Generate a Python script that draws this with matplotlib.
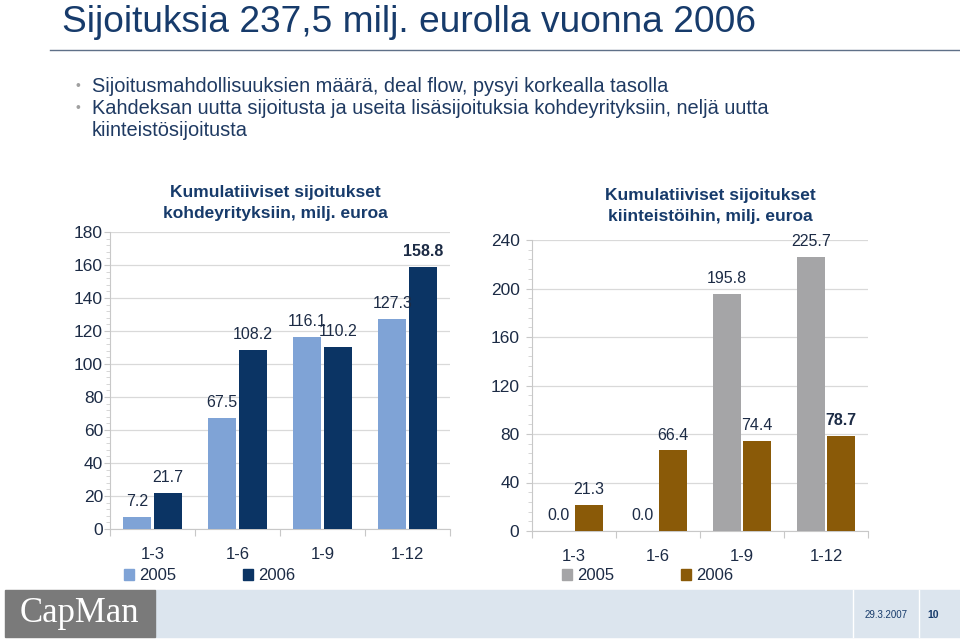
import matplotlib
matplotlib.use("Agg")
import matplotlib.pyplot as plt
from matplotlib.patches import Rectangle, Patch
from matplotlib.lines import Line2D
from matplotlib.ticker import MultipleLocator, AutoMinorLocator
import numpy as np

plt.rcParams['font.family'] = ['Liberation Sans', 'DejaVu Sans']

# data
periods = ['1-3', '1-6', '1-9', '1-12']
years = ['2005', '2006']
companies_2005 = [7.2, 67.5, 116.1, 127.3]
companies_2006 = [21.7, 108.2, 110.2, 158.8]
realestate_2005 = [0.0, 0.0, 195.8, 225.7]
realestate_2006 = [21.3, 66.4, 74.4, 78.7]

title = 'Sijoituksia 237,5 milj. eurolla vuonna 2006'
bullet_lines = ['Sijoitusmahdollisuuksien määrä, deal flow, pysyi korkealla tasolla',
                'Kahdeksan uutta sijoitusta ja useita lisäsijoituksia kohdeyrityksiin, neljä uutta',
                'kiinteistösijoitusta']
left_title = 'Kumulatiiviset sijoitukset\nkohdeyrityksiin, milj. euroa'
right_title = 'Kumulatiiviset sijoitukset\nkiinteistöihin, milj. euroa'

navy = '#173b6b'
text_dark = '#1c2b45'
W, H = 960, 640

fig = plt.figure(figsize=(9.6, 6.4), dpi=100)

def fx(px):
    return px / W

def fy(py):
    return 1 - py / H

# slide header
fig.text(fx(62), fy(22), title, fontsize=26.7, color=navy, va='center', ha='left')
fig.add_artist(Line2D([fx(50), 1.0], [fy(50), fy(50)], color='#5f7088', lw=1))
for yy, line, dot in zip([86, 108, 131], bullet_lines, [True, True, False]):
    if dot:
        fig.text(fx(75), fy(yy), '•', fontsize=10, color='#a0a0a0', va='center')
    fig.text(fx(92), fy(yy), line, fontsize=14.45, color='#1f3a62', va='center')


def draw_chart(rect, v05, v06, c05, c06, ymax, step, ctitle, title_pos, bold_idx,
               leg_pos, ypad):
    ax = fig.add_axes(rect)
    x = np.arange(len(periods))
    w = 0.33
    off = 0.18
    b1 = ax.bar(x - off, v05, w, color=c05, zorder=3)
    b2 = ax.bar(x + off, v06, w, color=c06, zorder=3)
    for bars, vals in ((b1, v05), (b2, v06)):
        for i, (b, v) in enumerate(zip(bars, vals)):
            bold = (bars is b2 and i == bold_idx)
            ax.text(b.get_x() + b.get_width() / 2, v + ymax * 0.027, f'{v:.1f}',
                    ha='center', va='bottom', fontsize=11.5, color=text_dark,
                    fontweight='bold' if bold else 'normal', zorder=4)
    ax.set_xlim(-0.5, len(periods) - 0.5)
    ax.set_ylim(0, ymax)
    ax.yaxis.set_major_locator(MultipleLocator(step))
    ax.yaxis.set_minor_locator(AutoMinorLocator(5))
    ax.set_xticks(np.arange(-0.5, len(periods)), minor=False)
    ax.set_xticklabels([])
    ax.set_xticks(x, minor=True)
    ax.set_xticklabels(periods, minor=True)
    ax.tick_params(axis='x', which='minor', length=0, labelsize=12, pad=13,
                   labelcolor=text_dark)
    ax.tick_params(axis='x', which='major', length=5, color='#c8c8c8', direction='out')
    ax.tick_params(axis='y', which='major', length=4, color='#c8c8c8', labelsize=12.5,
                   labelcolor=text_dark, pad=ypad, direction='out')
    ax.tick_params(axis='y', which='minor', length=3, color='#d0d0d0', direction='out')
    ax.grid(axis='y', color='#d9d9d9', lw=0.9, zorder=0)
    for s in ('top', 'right'):
        ax.spines[s].set_visible(False)
    ax.spines['left'].set_color('#c8c8c8')
    ax.spines['bottom'].set_color('#c8c8c8')
    ax.set_facecolor('none')
    fig.text(fx(title_pos[0]), fy(title_pos[1]), ctitle, ha='center', va='center',
             fontsize=12.5, fontweight='bold', color=navy, linespacing=1.45)
    fig.legend(handles=[Patch(color=c05, label=years[0]), Patch(color=c06, label=years[1])],
               loc='center left', bbox_to_anchor=(fx(leg_pos[0]), fy(leg_pos[1])),
               ncol=2, frameon=False, fontsize=12, handlelength=0.6, handleheight=0.6,
               handletextpad=0.3, columnspacing=4.0, borderpad=0, borderaxespad=0,
               labelcolor=text_dark)
    return ax


draw_chart([fx(110), fy(529), fx(340), (529 - 232) / H], companies_2005, companies_2006,
           '#7fa3d6', '#0b3464', 180, 20, left_title, (275, 203), 3, (124, 576), 1)
draw_chart([fx(532), fy(531), fx(336), (531 - 240) / H], realestate_2005, realestate_2006,
           '#a5a5a7', '#8a5a08', 240, 40, right_title, (710, 206), 3, (562, 576), 5)

# footer
fig.add_artist(Rectangle((fx(155), fy(637)), fx(805), (637 - 590) / H,
                         color='#dce5ee', transform=fig.transFigure, zorder=0))
fig.add_artist(Rectangle((fx(5), fy(637)), fx(150), (637 - 590) / H,
                         color='#7a7a7a', transform=fig.transFigure, zorder=1))
fig.add_artist(Line2D([fx(853), fx(853)], [fy(590), fy(637)], color='white', lw=1))
fig.add_artist(Line2D([fx(919), fx(919)], [fy(590), fy(637)], color='white', lw=1))
fig.text(fx(20), fy(614), 'CapMan', fontsize=25, color='white', family='Liberation Serif',
         va='center', ha='left', zorder=3)
fig.text(fx(886), fy(615), '29.3.2007', fontsize=7, color=navy, va='center', ha='center')
fig.text(fx(933), fy(615), '10', fontsize=7.5, color=navy, fontweight='bold',
         va='center', ha='center')

fig.savefig('out.png', dpi=100)
